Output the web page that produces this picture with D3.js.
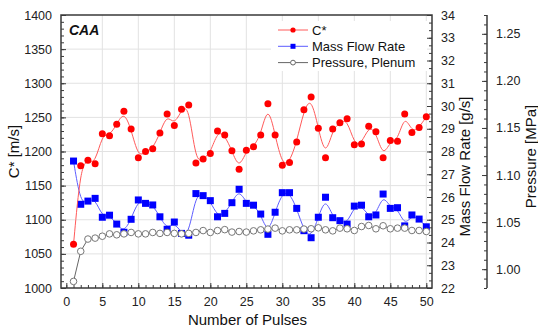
<!DOCTYPE html>
<html>
<head>
<meta charset="utf-8">
<script src="https://cdn.jsdelivr.net/npm/d3@7"></script>
<style>
  html, body { margin: 0; padding: 0; background: #fff; }
  svg { display: block; font-family: "Liberation Sans", Arial, sans-serif; }
</style>
</head>
<body>
<svg id="chart" width="538" height="333"></svg>
<script>
// Pulse index
const pulses = [1,2,3,4,5,6,7,8,9,10,11,12,13,14,15,16,17,18,19,20,21,22,23,24,25,
                26,27,28,29,30,31,32,33,34,35,36,37,38,39,40,41,42,43,44,45,46,47,48,49,50];

// Characteristic velocity C* [m/s]
const cstar = [1064,1179,1187,1182,1226,1223,1240,1259,1233,1191,1200,1204,1227,1255,1238,1262,1268,1183,1189,1197,
               1230,1224,1201,1174,1202,1207,1224,1270,1224,1180,1184,1214,1261,1280,1234,1191,1233,1242,1248,1210,
               1211,1237,1229,1191,1216,1215,1255,1228,1235,1251];

// Mass flow rate [g/s]
const massFlow = [27.58,25.68,25.82,25.94,25.11,25.20,24.81,24.45,25.02,25.87,25.72,25.65,25.13,24.58,24.90,24.40,24.32,26.15,26.06,25.84,
                  25.13,25.28,25.75,26.34,25.72,25.64,25.25,24.36,25.33,26.19,26.19,25.50,24.52,24.21,25.11,25.99,25.09,24.96,24.81,25.60,
                  25.64,25.13,25.21,26.13,25.50,25.53,24.73,25.21,25.03,24.69];

// Plenum pressure [MPa]
const pressure = [0.987,1.019,1.032,1.033,1.035,1.0375,1.0365,1.0375,1.039,1.0375,1.0375,1.039,1.038,1.039,1.038,1.0375,1.038,1.039,1.041,1.039,
                  1.041,1.042,1.0394,1.040,1.0394,1.0407,1.0418,1.0426,1.0436,1.0407,1.0418,1.0418,1.0426,1.0429,1.0439,1.0418,1.0407,1.0436,1.0429,1.0411,
                  1.0453,1.0464,1.0429,1.0461,1.0429,1.0436,1.0436,1.0411,1.0411,1.0400];

// Axis tick values and labels
const xTicks = [0,5,10,15,20,25,30,35,40,45,50];
const cTicks = [1000,1050,1100,1150,1200,1250,1300,1350,1400];
const mTicks = [22,23,24,25,26,27,28,29,30,31,32,33,34];
const pTicks = [1.00,1.05,1.10,1.15,1.20,1.25];
const seriesNames = ["C*", "Mass Flow Rate", "Pressure, Plenum"];
const titleText = "CAA";

const svg = d3.select("#chart");
const L = 61, R = 432, T = 15, B = 288, PAX = 487;
const frameColor = "#3a3a3a";

const x = d3.scaleLinear().domain([-0.74, 50.79]).range([L, R]);
const yC = d3.scaleLinear().domain([1000, 1400]).range([B, T]);
const yM = d3.scaleLinear().domain([22, 34]).range([B, T]);
const yP = d3.scaleLinear().domain([0.98, 1.27]).range([B, T]);

// grid
const grid = svg.append("g").attr("stroke", "#e2e2e2").attr("stroke-width", 1);
grid.selectAll("line.v").data(xTicks.filter(d => d > 0)).join("line")
  .attr("x1", d => x(d)).attr("x2", d => x(d)).attr("y1", T).attr("y2", B);
grid.selectAll("line.h").data(cTicks.filter(d => d > 1000 && d < 1400)).join("line")
  .attr("class", "h")
  .attr("x1", L).attr("x2", R).attr("y1", d => yC(d)).attr("y2", d => yC(d));

// axes
function styleAxis(g) {
  g.select(".domain").remove();
  g.selectAll(".tick line").attr("stroke", frameColor).attr("stroke-width", 1);
  g.selectAll(".tick text").attr("fill", "#222").style("font-size", "12.5px")
    .style("font-family", "'Liberation Sans', Arial, sans-serif");
}

// bottom axis: major every 5, minor every 1, ticks inward
svg.append("g").attr("transform", `translate(0,${B})`)
  .call(d3.axisBottom(x).tickValues(d3.range(0, 51, 1)).tickSize(-3).tickFormat(""))
  .call(styleAxis);
svg.append("g").attr("transform", `translate(0,${B})`)
  .call(d3.axisBottom(x).tickValues(xTicks).tickSize(-5).tickPadding(9).tickFormat(d3.format("d")))
  .call(styleAxis)
  .selectAll(".tick text").attr("dy", "0.71em");

// left axis
svg.append("g").attr("transform", `translate(${L},0)`)
  .call(d3.axisLeft(yC).tickValues(d3.range(1000, 1401, 10)).tickSize(-3).tickFormat(""))
  .call(styleAxis);
svg.append("g").attr("transform", `translate(${L},0)`)
  .call(d3.axisLeft(yC).tickValues(cTicks).tickSize(-5).tickPadding(9).tickFormat(d3.format("d")))
  .call(styleAxis);

// right axis (mass flow)
svg.append("g").attr("transform", `translate(${R},0)`)
  .call(d3.axisRight(yM).tickValues(d3.range(0, 37).map(i => 22 + i / 3)).tickSize(-3).tickFormat(""))
  .call(styleAxis);
svg.append("g").attr("transform", `translate(${R},0)`)
  .call(d3.axisRight(yM).tickValues(mTicks).tickSize(-5).tickPadding(9).tickFormat(d3.format("d")))
  .call(styleAxis);

// offset pressure axis
svg.append("g").attr("transform", `translate(${PAX},0)`)
  .call(d3.axisLeft(yP).tickValues(d3.range(98, 128).map(i => i / 100)).tickSize(3).tickFormat(""))
  .call(styleAxis);
const pAx = svg.append("g").attr("transform", `translate(${PAX},0)`)
  .call(d3.axisLeft(yP).tickValues(pTicks).tickSize(5).tickFormat(d3.format(".2f")))
  .call(styleAxis);
pAx.selectAll(".tick text").attr("x", 9).attr("text-anchor", "start");
svg.append("line").attr("x1", PAX).attr("x2", PAX).attr("y1", T).attr("y2", B)
  .attr("stroke", frameColor).attr("stroke-width", 1.5);

// frame
svg.append("rect").attr("x", L).attr("y", T).attr("width", R - L).attr("height", B - T)
  .attr("fill", "none").attr("stroke", frameColor).attr("stroke-width", 1.5);

// series
const smooth = d3.line().curve(d3.curveBasis);

// mass flow
svg.append("path")
  .attr("d", smooth(pulses.map((p, i) => [x(p), yM(massFlow[i])])))
  .attr("fill", "none").attr("stroke", "#5c5cff").attr("stroke-width", 1);
svg.append("g").selectAll("rect").data(pulses).join("rect")
  .attr("x", (p) => x(p) - 3.5).attr("y", (p, i) => yM(massFlow[i]) - 3.5)
  .attr("width", 7).attr("height", 7).attr("fill", "#0000ff");

// pressure
svg.append("path")
  .attr("d", d3.line()(pulses.map((p, i) => [x(p), yP(pressure[i])])))
  .attr("fill", "none").attr("stroke", "#666").attr("stroke-width", 1);
svg.append("g").selectAll("circle").data(pulses).join("circle")
  .attr("cx", p => x(p)).attr("cy", (p, i) => yP(pressure[i])).attr("r", 3.3)
  .attr("fill", "#fff").attr("stroke", "#777").attr("stroke-width", 1);

// C*
svg.append("path")
  .attr("d", smooth(pulses.map((p, i) => [x(p), yC(cstar[i])])))
  .attr("fill", "none").attr("stroke", "#ff5a5a").attr("stroke-width", 1);
svg.append("g").selectAll("circle").data(pulses).join("circle")
  .attr("cx", p => x(p)).attr("cy", (p, i) => yC(cstar[i])).attr("r", 3.5)
  .attr("fill", "#ff0000");

// legend
const lg = svg.append("g");
lg.append("rect").attr("x", 271).attr("y", 21).attr("width", 156).attr("height", 50).attr("fill", "#fff");
const rows = [
  { name: seriesNames[0], line: "#ff5a5a", mark: "dot" },
  { name: seriesNames[1], line: "#5c5cff", mark: "square" },
  { name: seriesNames[2], line: "#666", mark: "open" }
];
rows.forEach((r, i) => {
  const yy = 30 + i * 16.3;
  lg.append("line").attr("x1", 278).attr("x2", 308).attr("y1", yy).attr("y2", yy)
    .attr("stroke", r.line).attr("stroke-width", 1);
  if (r.mark === "dot") lg.append("circle").attr("cx", 293).attr("cy", yy).attr("r", 2.6).attr("fill", "#ff0000");
  if (r.mark === "square") lg.append("rect").attr("x", 290.5).attr("y", yy - 2.5).attr("width", 5).attr("height", 5).attr("fill", "#0000ff");
  if (r.mark === "open") lg.append("circle").attr("cx", 293).attr("cy", yy).attr("r", 2.4).attr("fill", "#fff").attr("stroke", "#666");
  lg.append("text").attr("x", 312).attr("y", yy).attr("dy", "0.36em")
    .style("font-size", "13px").attr("fill", "#111").text(r.name);
});

// panel label
svg.append("text").attr("x", 69).attr("y", 35).style("font-size", "14px")
  .style("font-weight", "bold").style("font-style", "italic").attr("fill", "#111").text(titleText);

// axis titles
svg.append("text").attr("x", (L + R) / 2 + 1).attr("y", 325).attr("text-anchor", "middle")
  .style("font-size", "15px").attr("fill", "#111").text("Number of Pulses");
svg.append("text").attr("transform", `translate(19,${(T + B) / 2}) rotate(-90)`).attr("text-anchor", "middle")
  .style("font-size", "15px").attr("fill", "#111").text("C* [m/s]");
svg.append("text").attr("transform", `translate(470,${(T + B) / 2 + 15}) rotate(-90)`).attr("text-anchor", "middle")
  .style("font-size", "15px").attr("fill", "#111").text("Mass Flow Rate [g/s]");
svg.append("text").attr("transform", `translate(536,${(T + B) / 2 + 5}) rotate(-90)`).attr("text-anchor", "middle")
  .style("font-size", "15px").attr("fill", "#111").text("Pressure [MPa]");
</script>
</body>
</html>
